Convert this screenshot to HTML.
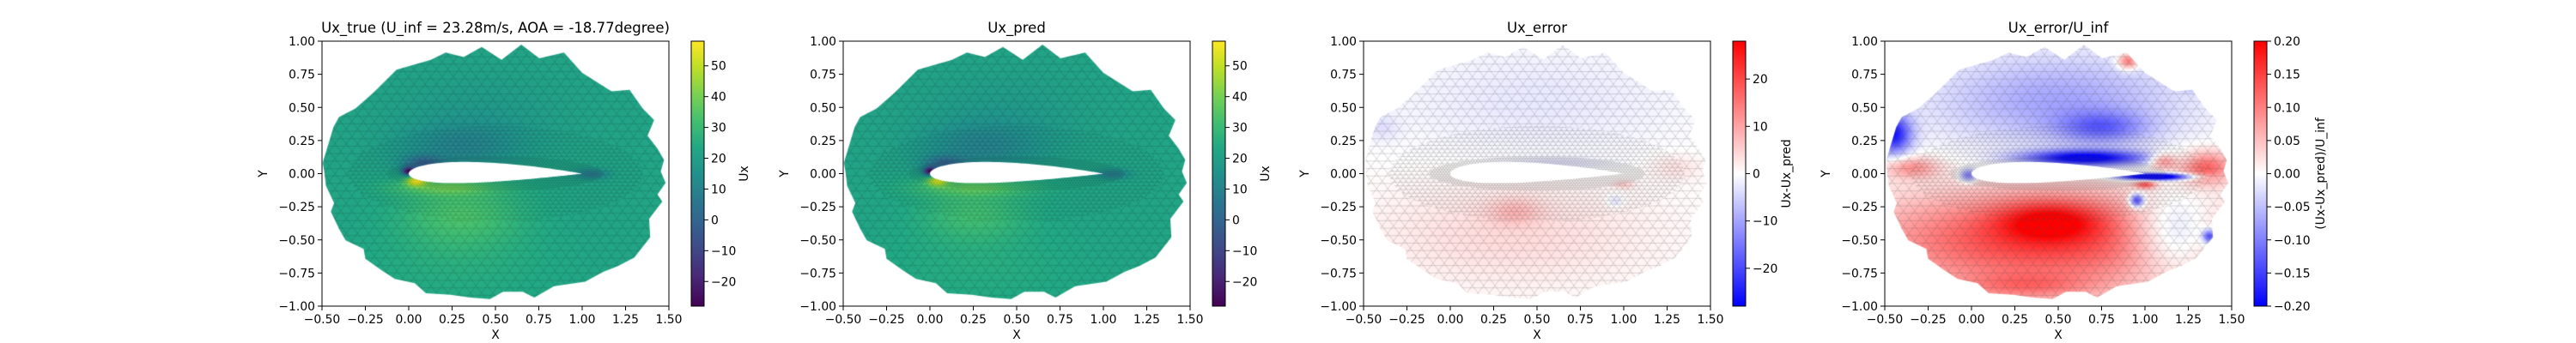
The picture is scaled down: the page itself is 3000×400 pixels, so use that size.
<!DOCTYPE html>
<html><head><meta charset="utf-8">
<style>
html,body{margin:0;padding:0;background:#fff;}
#root{position:relative;width:3000px;height:400px;overflow:hidden;font-family:"DejaVu Sans","Liberation Sans",sans-serif;}
canvas{position:absolute;}
svg{position:absolute;left:0;top:0;}
</style></head>
<body>
<div id="root">
<svg id="ov" width="3000" height="400"></svg>
</div>
<script>
// ---- data ----
const boundaryX=[-0.496,-0.434,-0.402,-0.307,-0.203,-0.070,0.128,0.213,0.317,0.421,0.535,0.649,0.753,0.895,0.999,1.169,1.273,1.349,1.415,1.377,1.434,1.472,1.453,1.481,1.434,1.462,1.386,1.392,1.301,1.207,1.122,1.017,0.838,0.724,0.658,0.544,0.469,0.355,0.242,0.100,0.034,-0.080,-0.156,-0.250,-0.260,-0.364,-0.402,-0.449,-0.430,-0.477,-0.487];
const boundaryY=[0.081,0.351,0.427,0.492,0.611,0.784,0.859,0.914,0.881,0.957,0.859,0.974,0.870,0.914,0.762,0.622,0.632,0.492,0.405,0.286,0.189,0.103,0.016,-0.070,-0.157,-0.211,-0.341,-0.481,-0.632,-0.697,-0.741,-0.816,-0.849,-0.935,-0.892,-0.892,-0.946,-0.935,-0.914,-0.903,-0.827,-0.795,-0.730,-0.643,-0.568,-0.503,-0.416,-0.286,-0.222,-0.092,0.016];
const xTicks=[-0.5,-0.25,0,0.25,0.5,0.75,1.0,1.25,1.5];
const yTicks=[-1,-0.75,-0.5,-0.25,0,0.25,0.5,0.75,1.0];
// field blobs: [x, y, sx, sy, amplitude]
const trueBase=22;
const trueBlobs=[[0.0,0.02,0.04,0.03,-45],[0.08,0.08,0.12,0.06,-20],[0.3,0.2,0.35,0.18,-10],[0.4,0.45,0.5,0.3,-4],[1.05,0.0,0.1,0.04,-15],[0.04,-0.05,0.06,0.04,30],[0.2,-0.1,0.3,0.06,12],[0.3,-0.3,0.35,0.25,11],[0.3,-0.7,0.6,0.3,3]];
const predBase=22;
const predBlobs=[[0.0,0.02,0.04,0.03,-45],[0.08,0.08,0.12,0.06,-18],[0.3,0.2,0.35,0.18,-10],[0.4,0.45,0.5,0.3,-4],[1.05,0.0,0.1,0.04,-14],[0.04,-0.05,0.06,0.04,26],[0.25,-0.1,0.35,0.07,12],[0.25,-0.3,0.3,0.2,9],[0.3,-0.7,0.6,0.3,3]];
const errBase=0;
const errBlobs=[[0.5,0.55,0.8,0.4,-2.5],[-0.4,0.35,0.1,0.1,-3],[0.35,-0.45,0.8,0.4,4],[0.37,-0.28,0.15,0.1,5],[1.3,0.05,0.15,0.1,3],[0.95,-0.2,0.05,0.05,-4],[1.0,-0.08,0.06,0.03,5],[0.6,0.08,0.3,0.05,-3]];
const relBase=0;
const relBlobs=[[0.5,0.55,0.7,0.35,-0.07],[-0.45,0.3,0.1,0.15,-0.18],[0.75,0.35,0.25,0.12,-0.09],[0.65,0.12,0.35,0.06,-0.22],[1.05,-0.02,0.2,0.025,-0.3],[-0.02,-0.01,0.05,0.05,-0.12],[0.9,0.85,0.06,0.06,0.12],[1.3,0.7,0.08,0.06,-0.12],[1.35,0.05,0.15,0.12,0.12],[1.1,0.1,0.08,0.06,0.1],[-0.35,0.05,0.15,0.08,0.08],[0.4,-0.5,1.0,0.38,0.15],[0.45,-0.35,0.3,0.15,0.1],[0.3,-0.85,0.4,0.1,0.06],[0.95,-0.2,0.04,0.05,-0.17],[1.0,-0.08,0.06,0.03,0.12],[1.15,-0.45,0.25,0.3,-0.09],[1.37,-0.47,0.04,0.05,-0.15]];
const cbTicksUx=[-20,-10,0,10,20,30,40,50];
const cbTicksErr=[-20,-10,0,10,20];
const cbTicksRel=[-0.2,-0.15,-0.1,-0.05,0,0.05,0.1,0.15,0.2];

// ---- colormaps ----
const VIR=["#440154","#482475","#414487","#355f8d","#2a788e","#21918c","#22a884","#44bf70","#7ad151","#bddf26","#fde725"].map(h=>[parseInt(h.substr(1,2),16),parseInt(h.substr(3,2),16),parseInt(h.substr(5,2),16)]);
function viridis(t){t=Math.max(0,Math.min(1,t));const f=t*10,i=Math.min(9,Math.floor(f)),r=f-i;const a=VIR[i],b=VIR[i+1];return [a[0]+(b[0]-a[0])*r,a[1]+(b[1]-a[1])*r,a[2]+(b[2]-a[2])*r];}
function bwr(t){t=Math.max(0,Math.min(1,t));if(t<0.5){const s=t*2;return [255*s,255*s,255];}const s=(1-t)*2;return [255,255*s,255*s];}

const AT=48,AB=357,AW=404,AH=AB-AT;
const panels=[
 {L:375,cmap:viridis,vmin:-28,vmax:58,base:trueBase,blobs:trueBlobs,mesh:'rgba(0,0,0,0.24)',title:'Ux_true (U_inf = 23.28m/s, AOA = -18.77degree)',ticks:cbTicksUx,dec:0,lab:'Ux',labX:496,name:'ux-true'},
 {L:982,cmap:viridis,vmin:-28,vmax:58,base:predBase,blobs:predBlobs,mesh:'rgba(0,0,0,0.24)',title:'Ux_pred',ticks:cbTicksUx,dec:0,lab:'Ux',labX:496,name:'ux-pred'},
 {L:1588,cmap:bwr,vmin:-28,vmax:28,base:errBase,blobs:errBlobs,mesh:'rgba(70,70,70,0.4)',title:'Ux_error',ticks:cbTicksErr,dec:0,lab:'Ux-Ux_pred',labX:497,name:'ux-error'},
 {L:2195,cmap:bwr,vmin:-0.2,vmax:0.2,base:relBase,blobs:relBlobs,mesh:'rgba(70,70,70,0.4)',title:'Ux_error/U_inf',ticks:cbTicksRel,dec:2,lab:'(Ux-Ux_pred)/U_inf',labX:512,name:'ux-error-relative'}
];

function airfoil(){const up=[],lo=[];for(let i=0;i<=60;i++){const b=Math.PI*i/60,x=(1-Math.cos(b))/2;const yt=5*0.16*(0.2969*Math.sqrt(x)-0.126*x-0.3516*x*x+0.2843*x*x*x-0.1036*x*x*x*x);const yc=0.04*x*(1-x);up.push([x,yc+yt]);lo.push([x,yc-yt]);}return up.concat(lo.reverse());}
const AF=airfoil();

const root=document.getElementById('root');
const svg=document.getElementById('ov');
const NS='http://www.w3.org/2000/svg';
function S(tag,attrs,parent){const e=document.createElementNS(NS,tag);for(const k in attrs)e.setAttribute(k,attrs[k]);(parent||svg).appendChild(e);return e;}
const fmt=(v,d)=>{const s=Math.abs(v).toFixed(d);return (v<0?'\u2212':'')+s;};
const defs=S('defs',{});

panels.forEach((p,pi)=>{
 const sx=x=>(x+0.5)/2*AW, sy=y=>(1-y)/2*AH;
 const cv=document.createElement('canvas');
 cv.width=AW;cv.height=AH;cv.style.left=p.L+'px';cv.style.top=AT+'px';
 
 
 root.insertBefore(cv,svg);
 const ctx=cv.getContext('2d');
 const tmp=document.createElement('canvas');tmp.width=AW;tmp.height=AH;
 const tc=tmp.getContext('2d');const img=tc.createImageData(AW,AH);
 for(let j=0;j<AH;j++){const y=1-2*j/AH;for(let i=0;i<AW;i++){const x=-0.5+2*i/AW;let v=p.base;
  for(const b of p.blobs){const dx=(x-b[0])/b[2],dy=(y-b[1])/b[3];v+=b[4]*Math.exp(-(dx*dx+dy*dy));}
  const c=p.cmap((v-p.vmin)/(p.vmax-p.vmin));const k=(j*AW+i)*4;img.data[k]=c[0];img.data[k+1]=c[1];img.data[k+2]=c[2];img.data[k+3]=255;}}
 tc.putImageData(img,0,0);
 ctx.save();ctx.beginPath();
 boundaryX.forEach((x,i)=>{const X=sx(x),Y=sy(boundaryY[i]);i?ctx.lineTo(X,Y):ctx.moveTo(X,Y);});ctx.closePath();
 AF.forEach((pt,i)=>{const X=sx(pt[0]),Y=sy(pt[1]);i?ctx.lineTo(X,Y):ctx.moveTo(X,Y);});ctx.closePath();
 ctx.clip('evenodd');
 ctx.drawImage(tmp,0,0);
 ctx.strokeStyle=p.mesh;ctx.lineWidth=0.5;
 function lattice(h){const hv=h*Math.sqrt(3)/2;ctx.beginPath();
  for(let y=-1.2;y<=1.2;y+=hv){ctx.moveTo(sx(-0.7),sy(y));ctx.lineTo(sx(1.7),sy(y));}
  const t=Math.tan(Math.PI/3);
  for(let c=-4;c<=4;c+=h){
   ctx.moveTo(sx(c-1.2/t),sy(-1.2));ctx.lineTo(sx(c+1.2/t),sy(1.2));
   ctx.moveTo(sx(c+1.2/t),sy(-1.2));ctx.lineTo(sx(c-1.2/t),sy(1.2));}
  ctx.stroke();}
 function ell(rx,ry){ctx.moveTo(sx(0.5+rx),sy(0));ctx.ellipse(sx(0.5),sy(0),rx/2*AW,ry/2*AH,0,0,Math.PI*2);}
 ctx.save();ctx.beginPath();ctx.rect(0,0,AW,AH);ell(0.85,0.36);ctx.clip('evenodd');lattice(0.065);ctx.restore();
 ctx.save();ctx.beginPath();ell(0.85,0.36);ell(0.62,0.13);ctx.clip('evenodd');lattice(0.032);ctx.restore();
 ctx.save();ctx.beginPath();ell(0.62,0.13);ctx.clip();lattice(0.016);ctx.restore();
 ctx.restore();

 const g=S('g',{});
 S('rect',{x:p.L,y:AT,width:AW,height:AH,fill:'none',stroke:'#000','stroke-width':1,},g);
 const tt=S('text',{x:p.L+AW/2,y:38,'text-anchor':'middle','font-size':16.5,},g);tt.textContent=p.title;
 xTicks.forEach(v=>{const X=p.L+(v+0.5)/2*AW;S('line',{x1:X,x2:X,y1:AB,y2:AB+5,stroke:'#000','stroke-width':1},g);
  const t=S('text',{x:X,y:377,'text-anchor':'middle','font-size':13.9,},g);t.textContent=fmt(v,2);});
 yTicks.forEach(v=>{const Y=AT+(1-v)/2*AH;S('line',{x1:p.L-5,x2:p.L,y1:Y,y2:Y,stroke:'#000','stroke-width':1},g);
  const t=S('text',{x:p.L-8,y:Y+5,'text-anchor':'end','font-size':13.9,},g);t.textContent=fmt(v,2);});
 const xl=S('text',{x:p.L+AW/2,y:395,'text-anchor':'middle','font-size':13.9,},g);xl.textContent='X';
 const yl=S('text',{x:0,y:0,'text-anchor':'middle','font-size':13.9,transform:`translate(${p.L-64},${AT+AH/2}) rotate(-90)`,},g);yl.textContent='Y';

 const cx=p.L+430,cw=15;
 const gid='grad'+pi;const lg=S('linearGradient',{id:gid,x1:0,y1:1,x2:0,y2:0},defs);
 for(let k=0;k<=20;k++){const c=p.cmap(k/20);S('stop',{offset:k/20,'stop-color':`rgb(${c.map(Math.round).join(',')})`},lg);}
 const cg=S('g',{});
 S('rect',{x:cx,y:AT,width:cw,height:AH,fill:`url(#${gid})`,stroke:'#000','stroke-width':1,},cg);
 p.ticks.forEach(v=>{const Y=AB-(v-p.vmin)/(p.vmax-p.vmin)*AH;S('line',{x1:cx+cw,x2:cx+cw+5,y1:Y,y2:Y,stroke:'#000','stroke-width':1},cg);
  const t=S('text',{x:cx+cw+8,y:Y+5,'font-size':13.9,},cg);t.textContent=fmt(v,p.dec);});
 const cl=S('text',{x:0,y:0,'text-anchor':'middle','font-size':13.9,transform:`translate(${p.L+p.labX},${AT+AH/2}) rotate(-90)`,},cg);cl.textContent=p.lab;
});
</script>
</body></html>
